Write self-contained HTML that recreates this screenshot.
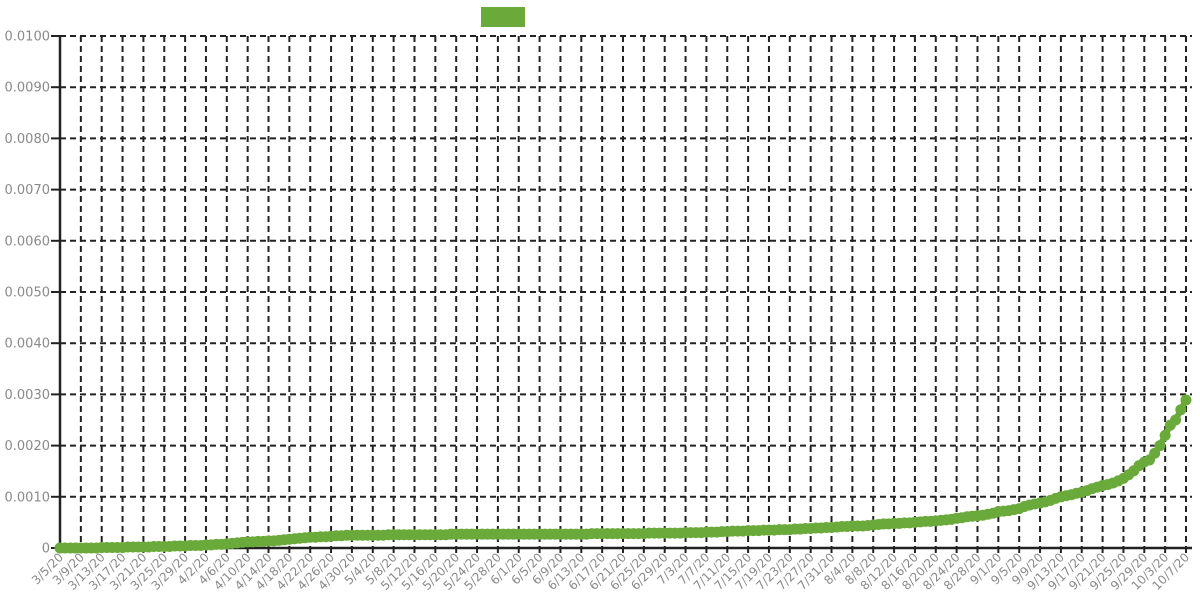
<!DOCTYPE html>
<html><head><meta charset="utf-8"><style>
html,body{margin:0;padding:0;background:#fff;}
svg{display:block;font-family:"DejaVu Sans","Liberation Sans",sans-serif;}
</style></head><body>
<svg id="chart" width="1200" height="600" viewBox="0 0 1200 600" xmlns="http://www.w3.org/2000/svg">
<rect x="481" y="7" width="44" height="20" fill="#6aaa3a"/>
<g id="grid"></g><g id="axes"></g><g id="series"></g>
</svg>
<script>
const startDate = [2020, 2, 5];
// values in units of 1e-5
const valuesE5 = [
0,0,0,0,0,0,0,0,1,1,1,1,1,2,2,2,2,2,3,3,3,3,4,4,4,5,5,5,6,6,7,7,
8,9,10,11,12,12,13,13,14,14,15,16,17,18,19,20,21,21,22,22,23,24,24,25,25,
25,25,25,25,25,25,26,26,26,26,26,26,26,26,26,26,26,26,27,27,27,27,27,27,27,27,27,27,27,27,27,
27,27,27,27,27,27,27,27,27,27,27,27,27,27,28,28,28,28,28,28,28,28,28,28,28,29,29,29,29,29,
29,29,30,30,30,30,31,31,31,32,32,33,33,33,34,34,34,35,35,35,36,36,36,37,37,38,38,39,39,40,40,
41,42,42,43,43,43,44,45,46,47,47,48,48,49,49,50,51,52,52,53,54,55,56,58,59,61,62,63,64,66,68,
71,72,73,75,77,81,84,86,88,90,93,97,100,102,104,107,109,112,116,119,122,124,127,131,136,143,151,161,168,172,
185,200,220,240,250,270,289
];
const yTicks = [0,0.001,0.002,0.003,0.004,0.005,0.006,0.007,0.008,0.009,0.01];
const yTickLabels = ["0","0.0010","0.0020","0.0030","0.0040","0.0050","0.0060","0.0070","0.0080","0.0090","0.0100"];
const labelEvery = 4;

const NS="http://www.w3.org/2000/svg";
const X0=60, X1=1186, XR=1192, Y0=548, Y1=36;
const n=valuesE5.length;
const x=i=>X0+(X1-X0)*i/(n-1);
const y=v=>Y0-(Y0-Y1)*v/0.01;
function mk(t,a,p){const e=document.createElementNS(NS,t);for(const k in a)e.setAttribute(k,a[k]);p.appendChild(e);return e;}
const grid=document.getElementById('grid'),axes=document.getElementById('axes'),series=document.getElementById('series');
yTicks.forEach((v,i)=>{
  const yy=y(v);
  if(v>0){const g=mk('line',{x1:X0,x2:XR,y1:yy,y2:yy,stroke:'#222','stroke-width':2,'stroke-dasharray':'6,4'},grid);
  
  }
  const tk=mk('line',{x1:51,x2:X0,y1:yy,y2:yy,stroke:'#222','stroke-width':2},axes);
  
  
  const t=mk('text',{x:50,y:yy+4.5,'text-anchor':'end','font-size':13,fill:'#8a8a8a'},axes);
  t.textContent=yTickLabels[i];
  
  
});
const d0=new Date(startDate[0],startDate[1],startDate[2]);
for(let i=0;i<n;i+=labelEvery){
  const xx=x(i);
  if(i>0){const g=mk('line',{x1:xx,x2:xx,y1:Y1,y2:Y0,stroke:'#222','stroke-width':2,'stroke-dasharray':'6,4'},grid);
  
  }
  const tk=mk('line',{x1:xx,x2:xx,y1:Y0,y2:Y0+5,stroke:'#222','stroke-width':2},axes);
  
  
  const d=new Date(d0);d.setDate(d0.getDate()+i);
  const t=mk('text',{x:xx+4,y:Y0+10,'text-anchor':'end','font-size':12,fill:'#8a8a8a',transform:`rotate(-45 ${xx+4} ${Y0+10})`},axes);
  t.textContent=(d.getMonth()+1)+'/'+d.getDate()+'/20';
  
  
}
const ya=mk('line',{x1:X0,x2:X0,y1:Y1,y2:Y0+1,stroke:'#222','stroke-width':2.5},axes);


const xa=mk('line',{x1:X0,x2:XR,y1:Y0,y2:Y0,stroke:'#222','stroke-width':2.5},axes);


const pts=valuesE5.map((v,i)=>x(i)+','+y(v*1e-5)).join(' ');
const pl=mk('polyline',{points:pts,fill:'none',stroke:'#6aaa3a','stroke-width':6},series);


valuesE5.forEach((v,i)=>{
  const c=mk('circle',{cx:x(i),cy:y(v*1e-5),r:5.5,fill:'#6aaa3a'},series);
  
  
});
</script>
</body></html>
